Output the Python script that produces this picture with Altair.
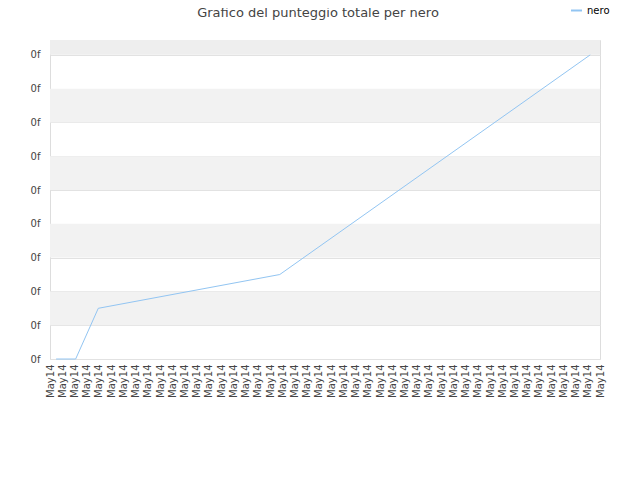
import altair as alt
import pandas as pd

# data
x_pos = [0.5, 2.1, 3.95, 18.8, 44.2]
scores = [0.0, 0.0, 1.5, 2.5, 9.0]
series = ["nero"] * len(x_pos)
tick_vals = list(range(0, 46))
y_ticks = list(range(0, 10))
band_lo = [1, 3, 5, 7]
band_hi = [2, 4, 6, 8]
top_lo = [9]
top_hi = [9.44]

df = pd.DataFrame({"x": x_pos, "y": scores, "s": series})
bands = pd.DataFrame({"y": band_lo, "y2": band_hi})
topb = pd.DataFrame({"y": top_lo, "y2": top_hi})

xs = alt.Scale(domain=[0, 45], nice=False, zero=False)
ys = alt.Scale(domain=[0, 9.44], nice=False, zero=False)

y_axis = alt.Axis(
    values=y_ticks, labelExpr="'0f'", labelFontSize=10, labelColor="#444", labelFont="DejaVu Sans",
    ticks=False, domain=False, grid=True, gridColor="#e2e2e2", labelPadding=10,
    title=None, labelFlush=False, labelOverlap=False)

band_layer = alt.Chart(bands).mark_rect(color="#f2f2f2").encode(
    y=alt.Y("y:Q", scale=ys, axis=y_axis), y2="y2:Q",
    x=alt.value(0), x2=alt.value(550))
top_layer = alt.Chart(topb).mark_rect(color="#eeeeee").encode(
    y=alt.Y("y:Q", scale=ys, axis=y_axis), y2="y2:Q",
    x=alt.value(0), x2=alt.value(550))

line = alt.Chart(df).mark_line(strokeWidth=1).encode(
    x=alt.X("x:Q", scale=xs, axis=alt.Axis(
        values=tick_vals, labelExpr="'May14'", labelAngle=-90, labelAlign="right",
        labelBaseline="middle", labelFontSize=10, labelColor="#444", labelFont="DejaVu Sans",
        ticks=False, domain=False, grid=False, labelPadding=5, title=None, labelOverlap=False,
        labelBound=False, labelFlush=False)),
    y=alt.Y("y:Q", scale=ys, axis=y_axis),
    color=alt.Color("s:N", scale=alt.Scale(range=["#92c5f2"]), legend=alt.Legend(
        orient="none", legendX=520, legendY=-36, title=None, symbolType="stroke",
        symbolStrokeWidth=2, symbolSize=120, labelFontSize=10, labelFont="DejaVu Sans",
        labelColor="#000")),
)

chart = alt.layer(top_layer, band_layer, line).properties(
    width=550, height=319,
    autosize=alt.AutoSizeParams(type="none"),
    padding={"left": 42, "top": 32, "right": 32, "bottom": 110},
    title=alt.TitleParams("Grafico del punteggio totale per nero", fontSize=13,
                          font="DejaVu Sans", fontWeight="normal", color="#444",
                          offset=6, dx=-7, dy=22, anchor="middle"),
).configure_view(stroke="#dddddd", strokeWidth=1)

chart.save("out.html", embed_options={"renderer": "svg", "actions": False})
